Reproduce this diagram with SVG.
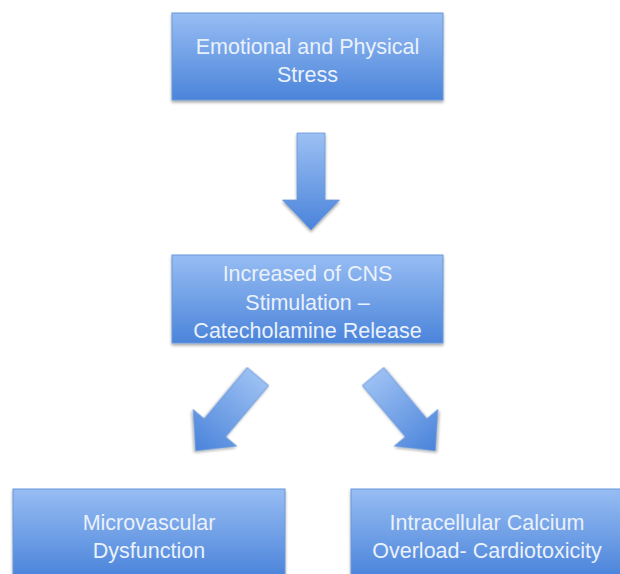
<svg xmlns="http://www.w3.org/2000/svg" width="620" height="574" viewBox="0 0 620 574">
<defs>
<linearGradient id="bg" x1="0" y1="0" x2="0" y2="1">
<stop offset="0" stop-color="#97bdf3"/>
<stop offset="1" stop-color="#4b84da"/>
</linearGradient>
<linearGradient id="ag" x1="0" y1="0" x2="0" y2="1">
<stop offset="0" stop-color="#9cc0f3"/>
<stop offset="1" stop-color="#4a83da"/>
</linearGradient>
<filter id="sh" x="-10%" y="-10%" width="120%" height="130%">
<feGaussianBlur in="SourceAlpha" stdDeviation="1.5"/>
<feOffset dy="2" result="b"/>
<feComponentTransfer><feFuncA type="linear" slope="0.35"/></feComponentTransfer>
<feMerge><feMergeNode/><feMergeNode in="SourceGraphic"/></feMerge>
</filter>
<path id="arrow" d="M-14,0 H14 V67 H28.5 L0,97 L-28.5,67 H-14 Z"/>
</defs>
<style>
.box{fill:url(#bg);stroke:#6a98d8;stroke-width:1;filter:url(#sh)}
.arr{fill:url(#ag);stroke:#6a98d8;stroke-width:0.8;filter:url(#sh)}
.t{font-family:"Liberation Sans",Arial,sans-serif;font-size:21.5px;fill:#eaf1fb;text-anchor:middle}
</style>
<rect width="620" height="574" fill="#ffffff"/>
<g id="stress">
<rect class="box" x="172" y="13" width="271" height="87"/>
<text class="t" x="307.5" y="53.5">Emotional and Physical</text>
<text class="t" x="307.5" y="81.5">Stress</text>
</g>
<g id="cns">
<rect class="box" x="172" y="255" width="271" height="88"/>
<text class="t" x="307.5" y="281">Increased of CNS</text>
<text class="t" x="307.5" y="309.5">Stimulation –</text>
<text class="t" x="307.5" y="338">Catecholamine Release</text>
</g>
<g id="micro">
<rect class="box" x="13" y="489" width="272" height="88"/>
<text class="t" x="149" y="530">Microvascular</text>
<text class="t" x="149" y="557.5">Dysfunction</text>
</g>
<g id="calcium">
<rect class="box" x="351" y="489" width="272" height="88"/>
<text class="t" x="487" y="530">Intracellular Calcium</text>
<text class="t" x="487" y="557.5">Overload- Cardiotoxicity</text>
</g>
<g id="connectors">
<use href="#arrow" class="arr" transform="translate(311,133)"/>
<use href="#arrow" class="arr" transform="translate(258,376.5) rotate(40)"/>
<use href="#arrow" class="arr" transform="translate(373,376.5) rotate(-40)"/>
</g>
</svg>
